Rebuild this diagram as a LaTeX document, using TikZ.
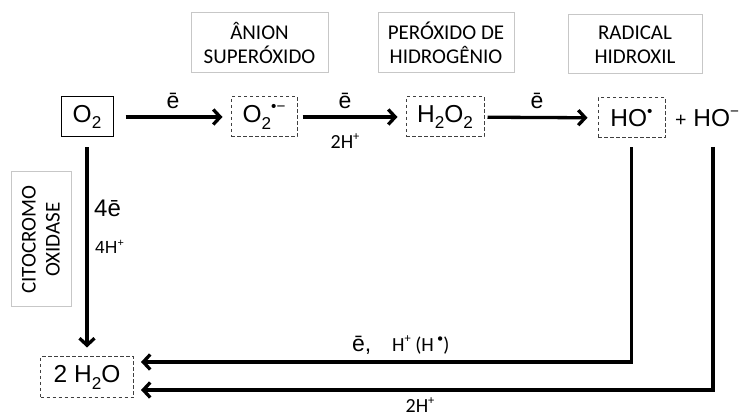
\documentclass[tikz,border=0pt]{standalone}
\usepackage{fontspec}
\setmainfont{Liberation Sans}
\newfontfamily\calib{Carlito}
\usetikzlibrary{arrows.meta}
% lowered / raised small characters for formulas
\newcommand\lowtxt[1]{\raisebox{-0.28em}{\scalebox{0.7}{#1}}}
\newcommand\uptxt[1]{\raisebox{0.42em}{\scalebox{0.62}{#1}}}
\tikzset{
  species/.style={draw, line width=1pt, inner sep=0pt, minimum height=40pt,
    font=\fontsize{24.5}{24.5}\selectfont},
  dashbox/.style={species, draw=black!75, dash pattern=on 3.5pt off 2.5pt},
  tagbox/.style={draw=black!22, line width=1pt, inner sep=0pt, align=center,
    font=\calib\fontsize{21}{24}\selectfont},
  lbl/.style={inner sep=0pt, font=\fontsize{23}{23}\selectfont},
  hlbl/.style={inner sep=0pt, font=\calib\fontsize{20}{20}\selectfont},
  arr/.style={line width=3.3pt, -{Straight Barb[length=7pt,width=15pt]}},
}
\begin{document}
\begin{tikzpicture}[x=1pt,y=-1pt]
\useasboundingbox (0,0) rectangle (740,419);
\fill[white] (0,0) rectangle (740,419);

% category labels
\node[tagbox, minimum width=137pt, minimum height=60pt] (tanion) at (259.5,43) {ÂNION\\SUPERÓXIDO};
\node[tagbox, minimum width=136pt, minimum height=60pt] (tperox) at (446,43) {PERÓXIDO DE\\HIDROGÊNIO};
\node[tagbox, minimum width=134pt, minimum height=59pt] (tradic) at (635,44.5) {RADICAL\\HIDROXIL};
\node[tagbox, minimum width=135pt, minimum height=60pt, rotate=90] (tcito) at (41,239.5) {CITOCROMO\\OXIDASE};

% species
\node[species, minimum width=52pt] (o2) at (87,117) {O\lowtxt{2}};
\node[dashbox, minimum width=66pt] (sup) at (264,117) {O\lowtxt{2}\uptxt{•−}};
\node[dashbox, minimum width=78pt] (h2o2) at (445,117) {H\lowtxt{2}O\lowtxt{2}};
\node[dashbox, minimum width=67pt] (ho) at (631.5,118) {HO\uptxt{•}};
\node[inner sep=0pt, anchor=west, font=\fontsize{24.5}{24.5}\selectfont] (hom) at (675,118) {\scalebox{0.8}{+} HO\uptxt{−}};
\coordinate (hombase) at (713,147);
\node[dashbox, minimum width=93pt, minimum height=41pt] (water) at (87,377.5) {2 H\lowtxt{2}O};

% one-electron steps
\draw[arr, shorten <=12pt, shorten >=8pt] (o2) -- (sup);
\draw[arr, shorten <=5pt, shorten >=8pt] (sup) -- (h2o2);
\draw[arr, shorten <=3pt, shorten >=10pt] (h2o2) -- (ho);
\node[lbl] (e1) at (173,101) {ē};
\node[lbl] (e2) at (345,101) {ē};
\node[lbl] (e3) at (537,101) {ē};
\node[hlbl] (h2a) at (345,141) {2H\uptxt{+}};

% cytochrome oxidase route
\draw[arr, shorten <=10pt, shorten >=9pt] (o2) -- (water);
\node[lbl, anchor=west, font=\fontsize{24}{24}\selectfont] (e4) at (94,208) {4ē};
\node[lbl, anchor=west, font=\fontsize{17.5}{17.5}\selectfont] (h4) at (95,247) {4H\uptxt{+}};

% return routes to water
\draw[arr, shorten <=9pt, shorten >=7pt] (ho.south) |- ([yshift=15.5pt]water.east);
\draw[arr, shorten >=7pt] (hombase) |- ([yshift=-12.5pt]water.east);
\node[lbl, anchor=west] (e5) at (352,345) {ē,};
\node[hlbl, anchor=west] (hh) at (392,345) {H\uptxt{+} (H\,\uptxt{•})};
\node[hlbl] (h2b) at (420,405) {2H\uptxt{+}};
\end{tikzpicture}
\end{document}
